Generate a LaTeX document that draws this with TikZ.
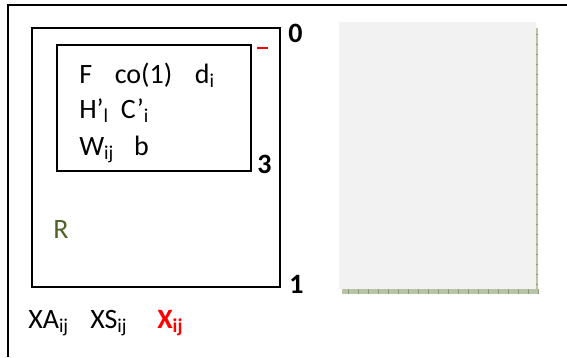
\documentclass[tikz,border=0pt]{standalone}
\usepackage{fontspec}
\setmainfont{Carlito}
\usepackage{xcolor}
\usepackage{tikz}
\usetikzlibrary{positioning}
\definecolor{verdeR}{HTML}{4F6228}
\definecolor{grisHoja}{HTML}{F2F2F2}
\definecolor{sombraHoja}{HTML}{B9C3A7}
\definecolor{rayaHoja}{HTML}{8E9C79}
\tikzstyle{marco} = [line width=1.5pt, black]
\tikzstyle{texto} = [anchor=base west, inner sep=0pt, font=\fontsize{21}{25}\selectfont]
\tikzstyle{numero} = [anchor=base west, inner sep=0pt, font=\fontsize{21}{25}\selectfont\bfseries]

\begin{document}
\begin{tikzpicture}[x=0.75pt, y=-0.75pt]
        \useasboundingbox (0,0) rectangle (567,357);
        % Marco exterior
        \draw[marco] (8,357) -- (8,5) -- (567,5);
        
        % Rectangulos
        \draw[marco] (32,28) rectangle (280,287);
        \draw[marco] (57,45) rectangle (251,171);
        \draw[red, line width=0.8pt] (257,48) -- (268,48);
        
        % Textos del rectangulo interior
        \node[texto] (lineaF) at (79,83) {F\hspace{17pt}co(1)\hspace{17pt}d\textsubscript{i}};
        \node[texto] (lineaH) at (79,118) {H’\textsubscript{l}\hspace{9pt}C’\textsubscript{i}};
        \node[texto] (lineaW) at (79,155) {W\textsubscript{ij}\hspace{15pt}b};
        \node[texto, text=verdeR] (letraR) at (53,238) {R};
        
        % Numeros
        \node[numero] (num0) at (288,42) {0};
        \node[numero] (num3) at (257,173) {3};
        \node[numero] (num1) at (289,293) {1};
        
        % Variables de abajo
        \node[texto] (varXA) at (28,328) {XA\textsubscript{ij}};
        \node[texto] (varXS) at (90,328) {XS\textsubscript{ij}};
        \node[texto, text=red, font=\fontsize{21}{25}\selectfont\bfseries] (varX) at (157,328) {X\textsubscript{ij}};
        
        % Hoja gris con sombra
        \fill[sombraHoja] (342,28) rectangle (538,294);
        \foreach \i in {348,358,...,538} \draw[rayaHoja, line width=0.4pt] (\i,289) -- (\i,294);
        \foreach \j in {34,44,...,289} \draw[rayaHoja, line width=0.4pt] (536,\j) -- (538,\j);
        \fill[grisHoja] (339,22) rectangle (536,289);
        
    \end{tikzpicture}
\end{document}
